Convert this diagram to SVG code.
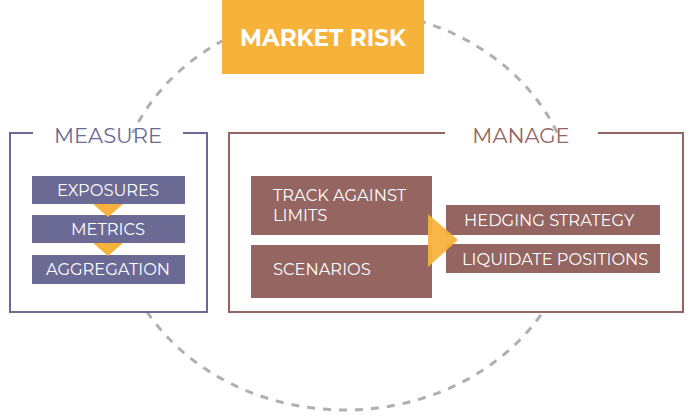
<svg xmlns="http://www.w3.org/2000/svg" width="691" height="418" viewBox="0 0 691 418">
<style>
text{font-family:"Montserrat","Lato","Liberation Sans",sans-serif;fill:#fff;font-size:16.3px}
.p{fill:#6b6a95}.b{fill:#946561}.o{fill:#f7b23b}
.t{font-size:21px}
</style>
<rect width="691" height="418" fill="#fff"/>
<g id="connectors">
<ellipse cx="345" cy="210" rx="230" ry="200" fill="none" stroke="#b0b0b0" stroke-width="3" stroke-dasharray="8 8"/>
</g>
<g id="measure">
<rect x="10" y="133" width="197" height="179" fill="#fff"/>
<path d="M33 133H10V312H207V133H183" fill="none" stroke="#6b6a95" stroke-width="2"/>
<text x="108" y="143" class="t" text-anchor="middle" style="fill:#6b6a95">MEASURE</text>
<rect class="p" x="32" y="176" width="153" height="28"/>
<rect class="p" x="32" y="215" width="153" height="28"/>
<rect class="p" x="32" y="255" width="153" height="29"/>
<polygon class="o" points="93,204 123,204 108,217"/>
<polygon class="o" points="93,243 123,243 108,256"/>
<text x="108" y="196" text-anchor="middle">EXPOSURES</text>
<text x="108" y="235" text-anchor="middle">METRICS</text>
<text x="108" y="275" text-anchor="middle">AGGREGATION</text>
</g>
<g id="manage">
<rect x="229" y="133" width="454" height="179" fill="#fff"/>
<path d="M445 133H229V312H683V133H598" fill="none" stroke="#946561" stroke-width="2"/>
<text x="521" y="143" class="t" text-anchor="middle" style="fill:#946561">MANAGE</text>
<rect class="b" x="251" y="176" width="181" height="59"/>
<rect class="b" x="251" y="245" width="181" height="53"/>
<rect class="b" x="446" y="205" width="214" height="30"/>
<rect class="b" x="446" y="244" width="214" height="29"/>
<polygon class="o" points="428,214 458,240 428,267" opacity="0.95"/>
<text x="273" y="201">TRACK AGAINST</text>
<text x="273" y="221">LIMITS</text>
<text x="273" y="275">SCENARIOS</text>
<text x="464" y="226">HEDGING STRATEGY</text>
<text x="462" y="265">LIQUIDATE POSITIONS</text>
</g>
<g id="market-risk">
<rect class="o" x="222" y="0" width="202" height="74"/>
<text x="323" y="46" text-anchor="middle" style="font-size:23px;font-weight:bold">MARKET RISK</text>
</g>
</svg>
